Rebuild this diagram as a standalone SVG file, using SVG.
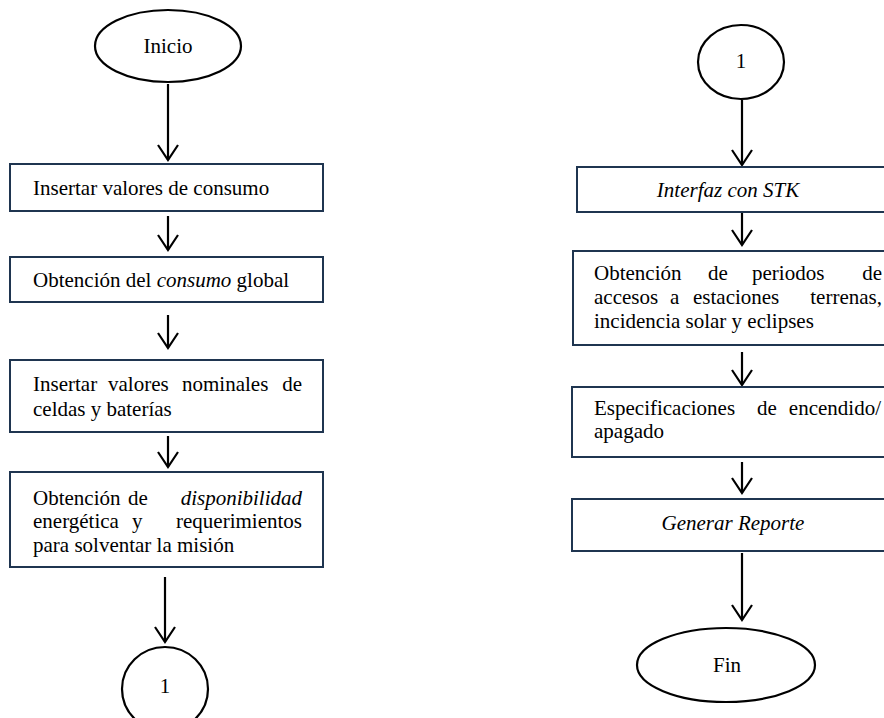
<svg xmlns="http://www.w3.org/2000/svg" width="884" height="718" viewBox="0 0 884 718">
<style>
text{font-family:"Liberation Serif","Times New Roman",serif;font-size:21px;fill:#000}
.c{text-anchor:middle}
.e{text-anchor:end}
.i{font-style:italic}
.box{fill:#fff;stroke:#1f3550;stroke-width:2}
.ell{fill:#fff;stroke:#000;stroke-width:2.2}
.arr{fill:none;stroke:#000;stroke-width:2.2}
</style>
<defs>
<marker id="ah" markerUnits="userSpaceOnUse" markerWidth="20" markerHeight="24" refX="17" refY="11" orient="auto" viewBox="0 0 20 24">
<path d="M2 1 L17 11 L2 21" fill="none" stroke="#000" stroke-width="2.2"/>
</marker>
</defs>
<rect width="884" height="718" fill="#fff"/>
<g id="connectors">
<path class="arr" d="M168 84 V160" marker-end="url(#ah)"/>
<path class="arr" d="M168 216 V250" marker-end="url(#ah)"/>
<path class="arr" d="M168 315 V348" marker-end="url(#ah)"/>
<path class="arr" d="M168 436 V467" marker-end="url(#ah)"/>
<path class="arr" d="M165 577 V642" marker-end="url(#ah)"/>
<path class="arr" d="M742 100 V165" marker-end="url(#ah)"/>
<path class="arr" d="M742 213 V245" marker-end="url(#ah)"/>
<path class="arr" d="M742 352 V385" marker-end="url(#ah)"/>
<path class="arr" d="M742 462 V493" marker-end="url(#ah)"/>
<path class="arr" d="M742 553 V620" marker-end="url(#ah)"/>
</g>
<g id="inicio">
<ellipse class="ell" cx="168" cy="46" rx="73" ry="36"/>
<text class="c" x="168" y="53">Inicio</text>
</g>
<g id="insertar-consumo">
<rect class="box" x="10" y="164" width="313" height="47"/>
<text x="33" y="195">Insertar valores de consumo</text>
</g>
<g id="consumo-global">
<rect class="box" x="10" y="257" width="313" height="45"/>
<text x="33" y="287">Obtención del <tspan class="i">consumo</tspan> global</text>
</g>
<g id="valores-nominales">
<rect class="box" x="10" y="360" width="313" height="72"/>
<text x="33" y="391">Insertar</text>
<text x="108" y="391">valores</text>
<text x="182" y="391">nominales</text>
<text class="e" x="302" y="391">de</text>
<text x="33" y="416">celdas y baterías</text>
</g>
<g id="disponibilidad">
<rect class="box" x="10" y="472" width="313" height="95"/>
<text x="33" y="505">Obtención</text>
<text x="128" y="505">de</text>
<text class="e i" x="302" y="505">disponibilidad</text>
<text x="33" y="528">energética</text>
<text x="132" y="528">y</text>
<text class="e" x="302" y="528">requerimientos</text>
<text x="33" y="552">para solventar la misión</text>
</g>
<g id="conector-1-a">
<ellipse class="ell" cx="165" cy="689" rx="43" ry="42"/>
<text class="c" x="165" y="693">1</text>
</g>
<g id="conector-1-b">
<ellipse class="ell" cx="741" cy="62" rx="43" ry="37"/>
<text class="c" x="741" y="68">1</text>
</g>
<g id="interfaz-stk">
<rect class="box" x="577" y="167" width="320" height="45"/>
<text class="c i" x="728" y="197">Interfaz con STK</text>
</g>
<g id="periodos">
<rect class="box" x="573" y="251" width="320" height="94"/>
<text x="594" y="280">Obtención</text>
<text x="708" y="280">de</text>
<text x="752" y="280">periodos</text>
<text class="e" x="882" y="280">de</text>
<text x="594" y="304">accesos</text>
<text x="670" y="304">a</text>
<text x="693" y="304">estaciones</text>
<text class="e" x="882" y="304">terrenas,</text>
<text x="594" y="328">incidencia solar y eclipses</text>
</g>
<g id="encendido">
<rect class="box" x="572" y="387" width="320" height="70"/>
<text x="594" y="415">Especificaciones</text>
<text x="757" y="415">de</text>
<text class="e" x="881" y="415">encendido/</text>
<text x="594" y="438">apagado</text>
</g>
<g id="reporte">
<rect class="box" x="572" y="499" width="320" height="52"/>
<text class="c i" x="733" y="530">Generar Reporte</text>
</g>
<g id="fin">
<ellipse class="ell" cx="726" cy="665" rx="89" ry="37"/>
<text class="c" x="727" y="672">Fin</text>
</g>
</svg>
